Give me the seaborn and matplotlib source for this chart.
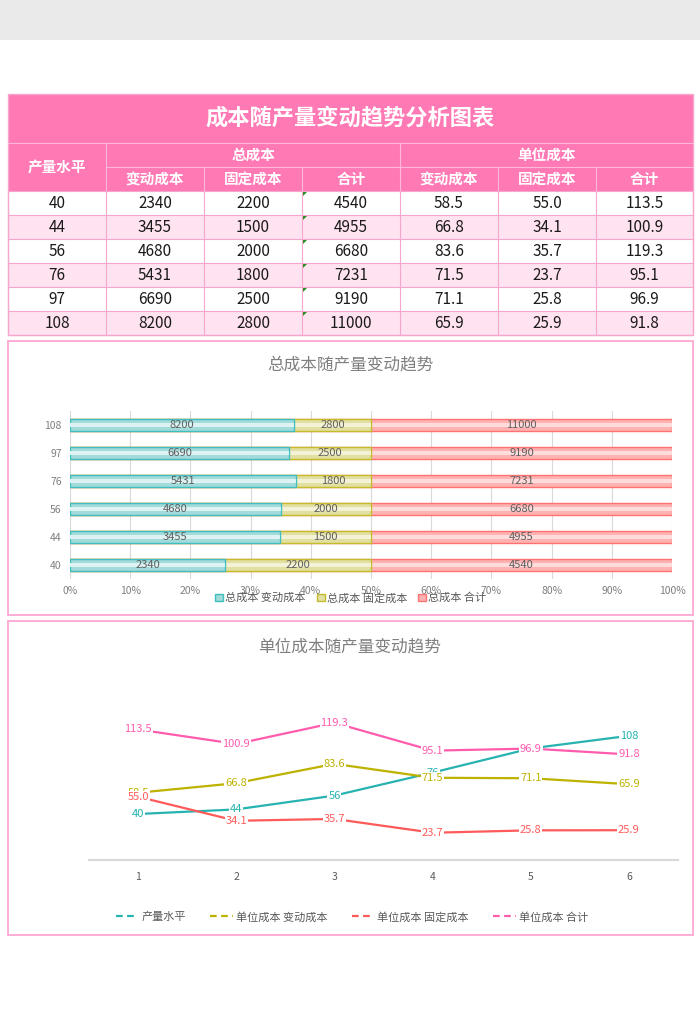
import matplotlib
matplotlib.use("Agg")
import numpy as np
import pandas as pd
import seaborn as sns
import matplotlib.pyplot as plt
from matplotlib.patches import Rectangle, Polygon
from matplotlib.lines import Line2D

sns.set_theme(style="white")
plt.rcParams['font.family'] = ['Noto Sans CJK SC', 'DejaVu Sans']

# ---------------- data ----------------
levels = [40, 44, 56, 76, 97, 108]
var_total = [2340, 3455, 4680, 5431, 6690, 8200]
fix_total = [2200, 1500, 2000, 1800, 2500, 2800]
sum_total = [4540, 4955, 6680, 7231, 9190, 11000]
var_unit = [58.5, 66.8, 83.6, 71.5, 71.1, 65.9]
fix_unit = [55.0, 34.1, 35.7, 23.7, 25.8, 25.9]
sum_unit = [113.5, 100.9, 119.3, 95.1, 96.9, 91.8]
periods = [1, 2, 3, 4, 5, 6]

table_title = '成本随产量变动趋势分析图表'
first_header = '产量水平'
group_headers = ['总成本', '单位成本']
sub_headers = ['变动成本', '固定成本', '合计']
bar_title = '总成本随产量变动趋势'
line_title = '单位成本随产量变动趋势'
bar_series = ['总成本 变动成本', '总成本 固定成本', '总成本 合计']
line_series = ['产量水平', '单位成本 变动成本', '单位成本 固定成本', '单位成本 合计']
pct_ticks = [0, 10, 20, 30, 40, 50, 60, 70, 80, 90, 100]

# ---------------- styles ----------------
PINK = '#FF79B5'
PINK_ROW = '#FFE3F0'
PINK_GRID = '#F6A6CC'
PANEL_EDGE = '#FF9FCD'
GRAY_TXT = '#7F7F7F'
bar_fill = ['#A3DADA', '#E2DFA2', '#FFB2B2']
bar_edge = ['#3FBFBF', '#C4BC2A', '#FF7272']
bar_hi = ['#DDF2F2', '#F4F2D6', '#FFDCDC']
line_colors = ['#27B3B0', '#BDB200', '#FF5A5A', '#FF5CAE']

fig = plt.figure(figsize=(7.0, 10.3), dpi=100)
bg = fig.add_axes([0, 0, 1, 1])
bg.set_xlim(0, 700)
bg.set_ylim(1030, 0)
bg.axis('off')

# top gray band
bg.add_patch(Rectangle((0, 0), 700, 40, fc='#EAEAEA', ec='none'))

# ---------------- table ----------------
col_x = [8, 106, 204, 302, 400, 498, 596, 693]
y_title, y_h1, y_h2, y_data = 94, 143, 167, 191
row_h = 24
bg.add_patch(Rectangle((col_x[0], y_title), col_x[-1] - col_x[0], y_data - y_title,
                       fc=PINK, ec='none'))
hl = dict(color='#FFB8D8', lw=0.8)
bg.plot([col_x[0], col_x[-1]], [y_h1, y_h1], **hl)
bg.plot([col_x[1], col_x[-1]], [y_h2, y_h2], **hl)
for cx in [col_x[1], col_x[4]]:
    bg.plot([cx, cx], [y_h1, y_data], **hl)
for cx in [col_x[2], col_x[3], col_x[5], col_x[6]]:
    bg.plot([cx, cx], [y_h2, y_data], **hl)

bg.text((col_x[0] + col_x[-1]) / 2, (y_title + y_h1) / 2, table_title, ha='center', va='center',
        fontsize=16, fontweight='bold', color='white')
bg.text((col_x[0] + col_x[1]) / 2, (y_h1 + y_data) / 2, first_header, ha='center', va='center',
        fontsize=10.5, fontweight='bold', color='white')
bg.text((col_x[1] + col_x[4]) / 2, (y_h1 + y_h2) / 2, group_headers[0], ha='center', va='center',
        fontsize=10.5, fontweight='bold', color='white')
bg.text((col_x[4] + col_x[7]) / 2, (y_h1 + y_h2) / 2, group_headers[1], ha='center', va='center',
        fontsize=10.5, fontweight='bold', color='white')
for k in range(6):
    bg.text((col_x[k + 1] + col_x[k + 2]) / 2, (y_h2 + y_data) / 2, sub_headers[k % 3],
            ha='center', va='center', fontsize=10.5, fontweight='bold', color='white')

columns = [
    [str(v) for v in levels],
    [str(v) for v in var_total],
    [str(v) for v in fix_total],
    [str(v) for v in sum_total],
    [f'{v:.1f}' for v in var_unit],
    [f'{v:.1f}' for v in fix_unit],
    [f'{v:.1f}' for v in sum_unit],
]
n = len(levels)
for i in range(n):
    top = y_data + i * row_h
    bg.add_patch(Rectangle((col_x[0], top), col_x[-1] - col_x[0], row_h,
                           fc=('white' if i % 2 == 0 else PINK_ROW), ec='none'))
    for c in range(7):
        bg.text((col_x[c] + col_x[c + 1]) / 2, top + row_h / 2 + 0.5, columns[c][i],
                ha='center', va='center', fontsize=11, color='#1A1A1A')
    bg.add_patch(Polygon([(col_x[3] + 1, top + 1), (col_x[3] + 5, top + 1), (col_x[3] + 1, top + 5)],
                         closed=True, fc='#1E8C1E', ec='none'))
for i in range(n + 1):
    yy = y_data + i * row_h
    bg.plot([col_x[0], col_x[-1]], [yy, yy], color=PINK_GRID, lw=0.8)
for cx in col_x:
    bg.plot([cx, cx], [y_data, y_data + n * row_h], color=PINK_GRID, lw=0.8)
bg.add_patch(Rectangle((col_x[0], y_title), col_x[-1] - col_x[0], y_data + n * row_h - y_title,
                       fill=False, ec=PINK_GRID, lw=1.0))

# ---------------- panels ----------------
bg.add_patch(Rectangle((8, 341), 685, 274, fill=False, ec=PANEL_EDGE, lw=1.2))
bg.add_patch(Rectangle((8, 621), 685, 314, fill=False, ec=PANEL_EDGE, lw=1.2))
bg.text(350, 365, bar_title, ha='center', va='center', fontsize=12, color=GRAY_TXT)
bg.text(350, 647, line_title, ha='center', va='center', fontsize=12, color=GRAY_TXT)

# ---------------- 100% stacked bar chart ----------------
denom = np.array(var_total) + np.array(fix_total) + np.array(sum_total)
df_bar = pd.DataFrame({
    'level': [str(v) for v in levels],
    'c1': np.array(var_total) / denom,
    'c2': (np.array(var_total) + np.array(fix_total)) / denom,
    'c3': denom / denom,
})
order = [str(v) for v in levels[::-1]]

ax1 = fig.add_axes([70 / 700, 1 - 579 / 1030, 602 / 700, 168 / 1030])
ax1.set_facecolor('none')
for col, k in [('c3', 2), ('c2', 1), ('c1', 0)]:
    sns.barplot(data=df_bar, x=col, y='level', order=order, orient='h', color=bar_fill[k],
                saturation=1, edgecolor=bar_edge[k], linewidth=1.0, width=0.43,
                errorbar=None, ax=ax1, zorder=3)
    sns.barplot(data=df_bar, x=col, y='level', order=order, orient='h', color=bar_hi[k],
                saturation=1, linewidth=0, width=0.14, errorbar=None, ax=ax1, zorder=3)

lookup = df_bar.set_index('level')
for j, lv in enumerate(order):
    c1, c2 = lookup.loc[lv, 'c1'], lookup.loc[lv, 'c2']
    idx = levels.index(int(lv))
    for xc, val in [(c1 / 2, var_total[idx]), ((c1 + c2) / 2, fix_total[idx]), ((c2 + 1) / 2, sum_total[idx])]:
        ax1.text(xc, j, str(val), ha='center', va='center', fontsize=8, color='#5F5F5F', zorder=5)

ax1.set_xlim(0, 1)
ax1.set_ylim(len(order) - 0.5, -0.5)
ax1.set_xticks([p / 100 for p in pct_ticks])
ax1.set_xticklabels([f'{p}%' for p in pct_ticks])
ax1.grid(axis='x', color='#D9D9D9', lw=0.8, zorder=0)
ax1.grid(axis='y', visible=False)
ax1.set_axisbelow(True)
for s in ax1.spines.values():
    s.set_visible(False)
ax1.set_xlabel('')
ax1.set_ylabel('')
ax1.tick_params(axis='x', length=0, pad=5, labelsize=7.5, labelcolor=GRAY_TXT)
ax1.tick_params(axis='y', length=0, pad=6, labelsize=7.5, labelcolor=GRAY_TXT)

bar_handles = [Rectangle((0, 0), 1, 1, fc=bar_fill[k], ec=bar_edge[k], lw=1.0) for k in range(3)]
fig.legend(bar_handles, bar_series, loc='center', bbox_to_anchor=(351 / 700, 1 - 598 / 1030),
           ncol=3, frameon=False, fontsize=8, handlelength=0.7, handleheight=0.7,
           handletextpad=0.2, columnspacing=1.0, labelcolor='#595959')

# ---------------- line chart ----------------
series_values = [levels, var_unit, fix_unit, sum_unit]
df_line = pd.DataFrame({
    'period': periods * 4,
    'value': [v for vals in series_values for v in vals],
    'series': [s for s in line_series for _ in periods],
})
ax2 = fig.add_axes([89 / 700, 1 - 860 / 1030, 589 / 700, 161 / 1030])
ax2.set_facecolor('none')
sns.lineplot(data=df_line, x='period', y='value', hue='series', hue_order=line_series,
             palette=dict(zip(line_series, line_colors)), linewidth=1.6, legend=False,
             sort=False, ax=ax2, zorder=3)
for s, vals, colr in zip(line_series, series_values, line_colors):
    for xp, v in zip(periods, vals):
        txt = str(v) if isinstance(v, int) else f'{v:.1f}'
        ax2.text(xp, v, txt, ha='center', va='center', fontsize=8, color=colr, zorder=5,
                 bbox=dict(boxstyle='square,pad=0.08', fc='white', ec='none'))

ax2.set_xlim(0.5, 6.5)
ax2.set_ylim(0, 140)
ax2.set_xticks(periods)
ax2.set_xticklabels([str(p) for p in periods])
ax2.set_yticks([])
ax2.set_xlabel('')
ax2.set_ylabel('')
for name, s in ax2.spines.items():
    s.set_visible(name == 'bottom')
ax2.spines['bottom'].set_color('#D9D9D9')
ax2.spines['bottom'].set_linewidth(1.5)
ax2.tick_params(axis='x', length=0, pad=9, labelsize=7.5, labelcolor='#595959')

line_handles = [Line2D([], [], color=c, lw=1.6, linestyle=(0, (3, 2))) for c in line_colors]
fig.legend(line_handles, line_series, loc='center', bbox_to_anchor=(352 / 700, 1 - 917 / 1030),
           ncol=4, frameon=False, fontsize=8, handlelength=2.0, handletextpad=0.3,
           columnspacing=2.2, labelcolor='#595959')

fig.savefig('out.png', dpi=100)
